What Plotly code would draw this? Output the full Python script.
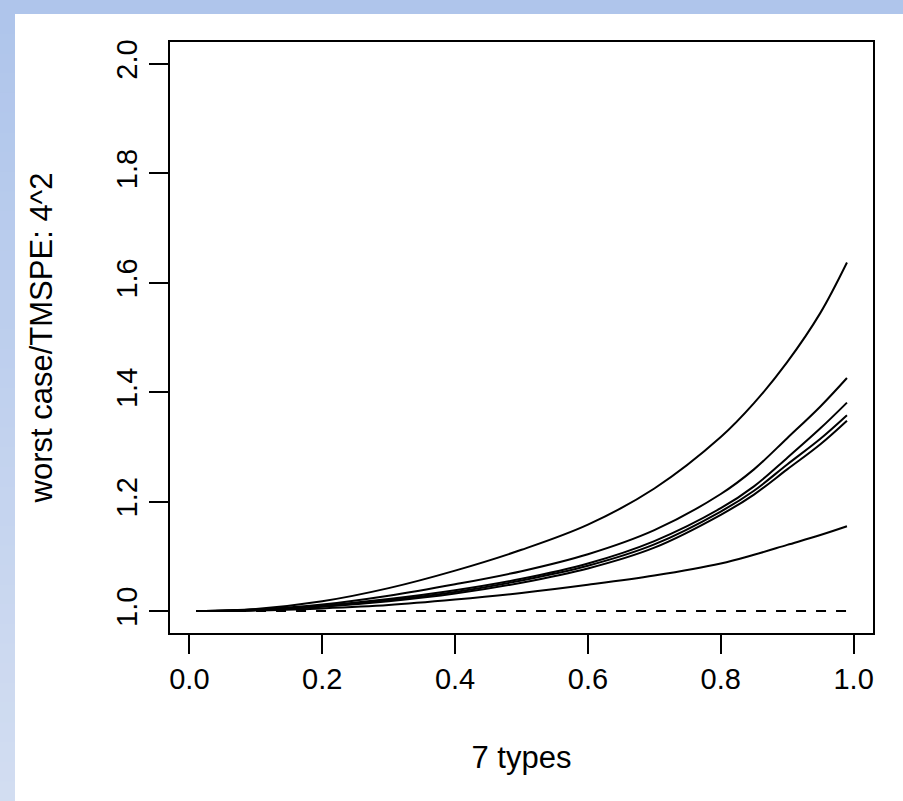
import plotly.graph_objects as go

# proportion of the population (x) and ratio worst case / TMSPE for each curve
x = [0.01, 0.1, 0.2, 0.3, 0.4, 0.5, 0.6, 0.7, 0.8, 0.85, 0.9, 0.95, 0.99]
curve_a = [1.000, 1.004, 1.018, 1.042, 1.074, 1.112, 1.158, 1.224, 1.318, 1.380, 1.455, 1.545, 1.637]
curve_b = [1.000, 1.003, 1.012, 1.028, 1.049, 1.073, 1.104, 1.148, 1.214, 1.259, 1.316, 1.374, 1.426]
curve_c = [1.000, 1.002, 1.010, 1.022, 1.038, 1.059, 1.087, 1.128, 1.188, 1.228, 1.280, 1.334, 1.381]
curve_d = [1.000, 1.002, 1.009, 1.020, 1.035, 1.056, 1.083, 1.122, 1.182, 1.220, 1.268, 1.315, 1.358]
curve_e = [1.000, 1.002, 1.008, 1.018, 1.032, 1.052, 1.078, 1.116, 1.176, 1.213, 1.259, 1.305, 1.348]
curve_f = [1.000, 1.001, 1.005, 1.011, 1.021, 1.033, 1.048, 1.065, 1.087, 1.103, 1.121, 1.139, 1.155]
baseline = [1.0, 1.0]
baseline_x = [0.01, 0.99]

x_ticks = [0.0, 0.2, 0.4, 0.6, 0.8, 1.0]
y_ticks = [1.0, 1.2, 1.4, 1.6, 1.8, 2.0]

W, H = 903, 801
ML, MR, MT, MB = 170, 30, 42, 168
pw, ph = W - ML - MR, H - MT - MB


def px(xp, yp):
    # pixel position -> paper coords
    return (xp - ML) / pw, 1 - (yp - MT) / ph


fig = go.Figure()
for ys in [curve_a, curve_b, curve_c, curve_d, curve_e, curve_f]:
    fig.add_trace(go.Scatter(x=x, y=ys, mode="lines", line=dict(color="black", width=2, shape="spline"),
                             showlegend=False, hoverinfo="skip"))
fig.add_trace(go.Scatter(x=baseline_x, y=baseline, mode="lines",
                         line=dict(color="black", width=2, dash="10px,10px"), showlegend=False))

shapes = []
# light blue frame of the slide, top strip and left strip with a gradient
x0, y0 = px(0, 0)
x1, y1 = px(W, 14)
shapes.append(dict(type="rect", xref="paper", yref="paper", x0=x0, x1=x1, y0=y1, y1=y0,
                   fillcolor="#afc5eb", line_width=0, layer="below"))
n = 40
c_top = (175, 197, 235)
c_bot = (210, 221, 241)
for i in range(n):
    t = i / (n - 1)
    col = "rgb(%d,%d,%d)" % tuple(round(a + (b - a) * t) for a, b in zip(c_top, c_bot))
    ya = 14 + (H - 14) * i / n
    yb = 14 + (H - 14) * (i + 1) / n + 1
    a0, b0 = px(0, ya)
    a1, b1 = px(15, yb)
    shapes.append(dict(type="rect", xref="paper", yref="paper", x0=a0, x1=a1, y0=b1, y1=b0,
                       fillcolor=col, line_width=0, layer="below"))
xa, ya_ = px(0, 0)
xb, yb_ = px(14, 14)
shapes.append(dict(type="rect", xref="paper", yref="paper", x0=xa, x1=xb, y0=yb_, y1=ya_,
                   fillcolor="#afc5eb", line_width=0, layer="below"))

font = dict(family="Liberation Sans, Arial", size=29, color="black")
title_font = dict(family="Liberation Sans, Arial", size=31, color="black")

fig.update_layout(
    width=W, height=H,
    margin=dict(l=ML, r=MR, t=MT, b=MB),
    paper_bgcolor="white", plot_bgcolor="white",
    font=font,
    shapes=shapes,
    xaxis=dict(range=[-0.0292, 1.0292], tickvals=x_ticks, ticktext=["%.1f" % v for v in x_ticks],
               showgrid=False, zeroline=False, showline=True, mirror=True, linecolor="black", linewidth=2,
               ticks="outside", ticklen=19, tickwidth=2, tickcolor="black",
               title=dict(text="7 types", standoff=53, font=title_font)),
    yaxis=dict(range=[0.96, 2.04], tickvals=y_ticks, ticktext=["%.1f" % v for v in y_ticks],
               showgrid=False, zeroline=False, showline=True, mirror=True, linecolor="black", linewidth=2,
               ticks="outside", ticklen=19, tickwidth=2, tickcolor="black", tickangle=-90,
               title=dict(text="worst case/TMSPE: 4^2", standoff=50, font=title_font)),
)

fig.write_html("out.html", config={"displayModeBar": False},
               post_script="document.body.style.margin='0';")
